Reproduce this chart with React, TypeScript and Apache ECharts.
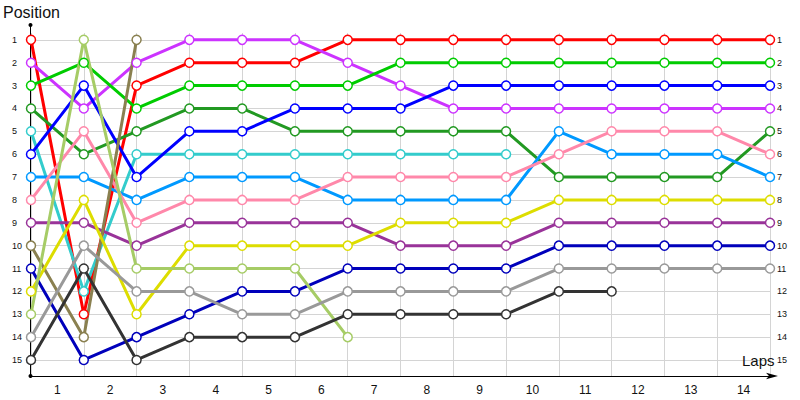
import React, { useEffect, useRef } from "react";
import * as echarts from "echarts";

// x categories (labels sit between the lap lines)
const lapLabels = ["1", "2", "3", "4", "5", "6", "7", "8", "9", "10", "11", "12", "13", "14"];
const positionTicks = [1, 2, 3, 4, 5, 6, 7, 8, 9, 10, 11, 12, 13, 14, 15];

// position of each driver after every lap (index 0 = start)
const red = [1, 13, 3, 2, 2, 2, 1, 1, 1, 1, 1, 1, 1, 1, 1];
const purple = [2, 4, 2, 1, 1, 1, 2, 3, 4, 4, 4, 4, 4, 4, 4];
const green = [3, 2, 4, 3, 3, 3, 3, 2, 2, 2, 2, 2, 2, 2, 2];
const darkGreen = [4, 6, 5, 4, 4, 5, 5, 5, 5, 5, 7, 7, 7, 7, 5];
const cyan = [5, 12, 6, 6, 6, 6, 6, 6, 6, 6];
const blue = [6, 3, 7, 5, 5, 4, 4, 4, 3, 3, 3, 3, 3, 3, 3];
const lightBlue = [7, 7, 8, 7, 7, 7, 8, 8, 8, 8, 5, 6, 6, 6, 7];
const pink = [8, 5, 9, 8, 8, 8, 7, 7, 7, 7, 6, 5, 5, 5, 6];
const darkPurple = [9, 9, 10, 9, 9, 9, 9, 10, 10, 10, 9, 9, 9, 9, 9];
const olive = [10, 14, 1];
const navy = [11, 15, 14, 13, 12, 12, 11, 11, 11, 11, 10, 10, 10, 10, 10];
const yellow = [12, 8, 13, 10, 10, 10, 10, 9, 9, 9, 8, 8, 8, 8, 8];
const lightGreen = [13, 1, 11, 11, 11, 11, 14];
const gray = [14, 10, 12, 12, 13, 13, 12, 12, 12, 12, 11, 11, 11, 11, 11];
const darkGray = [15, 11, 15, 14, 14, 14, 13, 13, 13, 13, 12, 12];

const drivers = [
  { positions: red, color: "#ff0000" },
  { positions: purple, color: "#cc33ff" },
  { positions: green, color: "#00cc00" },
  { positions: darkGreen, color: "#229922" },
  { positions: cyan, color: "#33cccc" },
  { positions: blue, color: "#0000ff" },
  { positions: lightBlue, color: "#0099ff" },
  { positions: pink, color: "#ff88aa" },
  { positions: darkPurple, color: "#993399" },
  { positions: olive, color: "#8a8050" },
  { positions: navy, color: "#0000bb" },
  { positions: yellow, color: "#dddd00" },
  { positions: lightGreen, color: "#a6cc66" },
  { positions: gray, color: "#999999" },
  { positions: darkGray, color: "#333333" },
];

const FONT = "Liberation Sans";

const App = () => {
  const chartRef = useRef<HTMLDivElement | null>(null);

  useEffect(() => {
    if (!chartRef.current) return;
    const chart = echarts.init(chartRef.current, null, { renderer: "svg" });

    const yAxisBase = {
      type: "value",
      min: 0.7,
      max: 15.7,
      inverse: true,
      axisLine: { show: false },
      axisTick: { show: false, customValues: positionTicks },
    };

    const options = {
      animation: false,
      backgroundColor: "#ffffff",
      title: [
        {
          text: "Position",
          left: 3,
          top: 4,
          padding: 0,
          textStyle: { fontFamily: FONT, fontSize: 16, fontWeight: "normal", color: "#111" },
        },
        {
          text: "Laps",
          left: 742,
          top: 353,
          padding: 0,
          textStyle: { fontFamily: FONT, fontSize: 15, fontWeight: "normal", color: "#111" },
        },
      ],
      grid: { left: 31, right: 30, top: 33, bottom: 24, containLabel: false },
      xAxis: [
        {
          type: "value",
          min: 0,
          max: 14,
          interval: 1,
          axisLine: {
            show: true,
            onZero: false,
            lineStyle: { color: "#000", width: 1 },
            symbol: ["none", "arrow"],
            symbolSize: [5, 12],
            symbolOffset: [0, 8],
          },
          axisTick: { show: false },
          axisLabel: { show: false },
          splitLine: { show: true, lineStyle: { color: "#d4d4d4", width: 1 } },
        },
        {
          type: "category",
          data: lapLabels,
          boundaryGap: true,
          position: "bottom",
          axisLine: { show: false, onZero: false },
          axisTick: { show: false },
          splitLine: { show: false },
          axisLabel: { fontFamily: FONT, fontSize: 12, color: "#111", margin: 8 },
        },
      ],
      yAxis: [
        {
          ...yAxisBase,
          position: "left",
          axisLabel: {
            customValues: positionTicks,
            fontFamily: FONT,
            fontSize: 9,
            color: "#111",
            align: "left",
            margin: 19,
          },
          splitLine: { show: true, lineStyle: { color: "#d4d4d4", width: 1 } },
        },
        {
          ...yAxisBase,
          position: "right",
          axisLabel: {
            customValues: positionTicks,
            fontFamily: FONT,
            fontSize: 9,
            color: "#111",
            align: "left",
            margin: 7,
          },
          splitLine: { show: false },
        },
      ],
      graphic: [
        {
          type: "line",
          z: 1,
          shape: { x1: 30.5, y1: 25, x2: 30.5, y2: 376 },
          style: { stroke: "#000", lineWidth: 1 },
        },
        { type: "circle", z: 1, shape: { cx: 30.5, cy: 25, r: 2 }, style: { fill: "#000" } },
        { type: "circle", z: 1, shape: { cx: 30.5, cy: 376, r: 2 }, style: { fill: "#000" } },
      ],
      series: drivers.map((d) => ({
        type: "line",
        xAxisIndex: 0,
        yAxisIndex: 0,
        data: d.positions.map((p, lap) => [lap, p]),
        symbol: "circle",
        symbolSize: 9,
        showAllSymbol: true,
        lineStyle: { color: d.color, width: 3 },
        itemStyle: { color: "#ffffff", borderColor: d.color, borderWidth: 1.5 },
        emphasis: { disabled: true },
      })),
    };

    chart.setOption(options);

    return () => {
      chart.dispose();
    };
  }, []);

  return (
    <div
      ref={chartRef}
      style={{ position: "fixed", left: 0, top: 0, width: "800px", height: "400px" }}
    ></div>
  );
};

export default App;
